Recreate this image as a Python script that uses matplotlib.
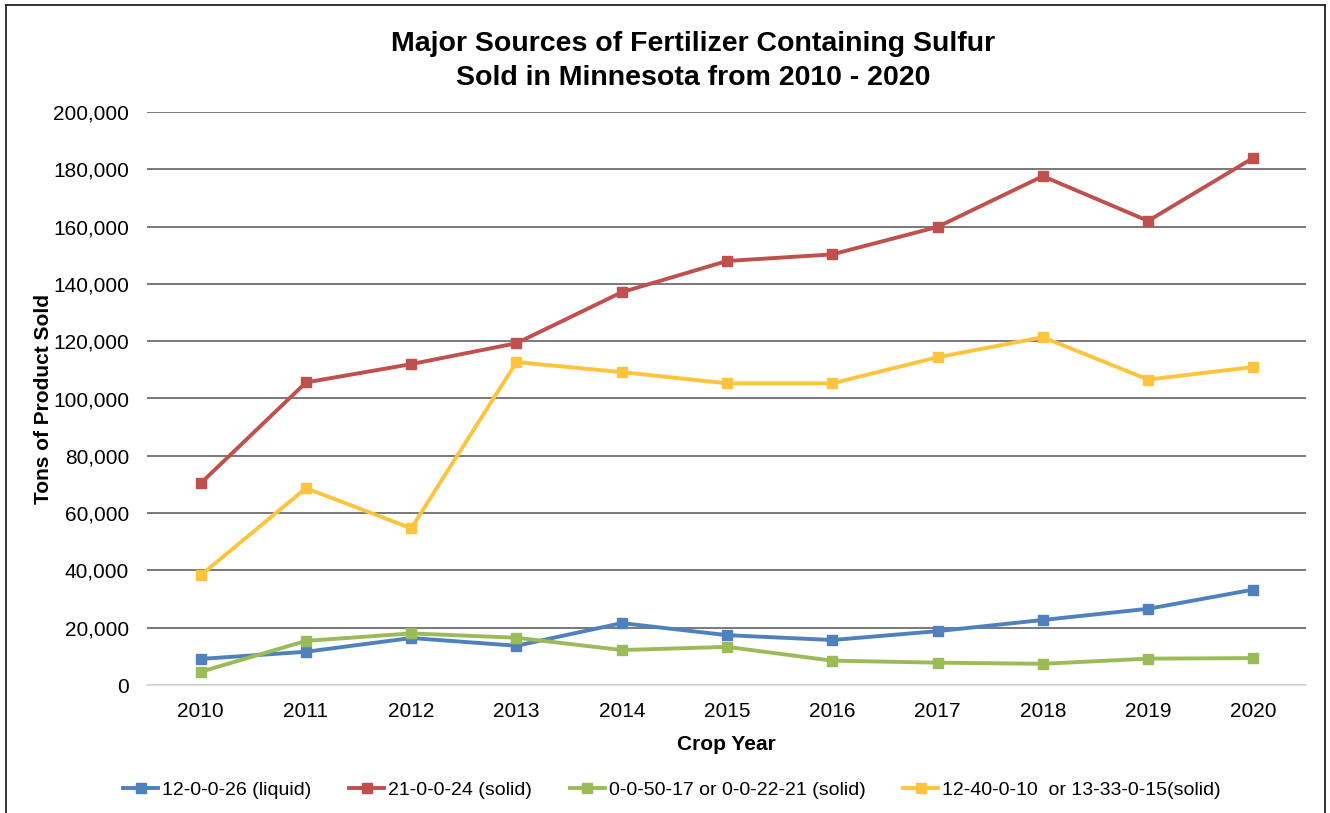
import matplotlib
matplotlib.use("Agg")
import matplotlib.pyplot as plt
from matplotlib.lines import Line2D
from matplotlib.ticker import FuncFormatter

plt.rcParams['font.family'] = ['Liberation Sans', 'DejaVu Sans']

years = [2010, 2011, 2012, 2013, 2014, 2015, 2016, 2017, 2018, 2019, 2020]
liquid_12_0_0_26 = [9100, 11600, 16400, 13700, 21600, 17400, 15700, 18800, 22700, 26600, 33300]
solid_21_0_0_24 = [70400, 105600, 112000, 119300, 137100, 148000, 150300, 159900, 177600, 162000, 184000]
solid_0_0_50_17 = [4600, 15400, 18000, 16500, 12200, 13300, 8500, 7800, 7400, 9200, 9400]
solid_12_40_0_10 = [38300, 68700, 54700, 112700, 109200, 105300, 105300, 114400, 121400, 106600, 111000]

series = [
    ("12-0-0-26 (liquid)", liquid_12_0_0_26, "#4F81BD"),
    ("21-0-0-24 (solid)", solid_21_0_0_24, "#C0504D"),
    ("0-0-50-17 or 0-0-22-21 (solid)", solid_0_0_50_17, "#9BBB59"),
    ("12-40-0-10  or 13-33-0-15(solid)", solid_12_40_0_10, "#FFC43D"),
]
yticks = list(range(0, 200001, 20000))

fig = plt.figure(figsize=(13.3, 8.13), dpi=100)
ax = fig.add_axes([147/1330, 1-685/813, (1306-147)/1330, (685-112)/813])

for label, vals, col in series:
    ax.plot(years, vals, color=col, lw=2.8, marker='s', markersize=6.5,
            label=label, solid_joinstyle='round')

ax.set_xlim(2009.49, 2020.5)
ax.set_ylim(0, 200000)
ax.set_yticks(yticks)
ax.set_xticks(years)
ax.yaxis.set_major_formatter(FuncFormatter(lambda v, p: f"{int(v):,}"))
ax.grid(axis='y', color='#6e6e6e', lw=1.3)
ax.set_axisbelow(True)
for s in ['top', 'right', 'left']:
    ax.spines[s].set_visible(False)
ax.spines['bottom'].set_color('#d9d9d9')
ax.spines['bottom'].set_linewidth(1.3)
ax.tick_params(axis='both', length=0, labelsize=15, colors='#000000')
ax.tick_params(axis='y', pad=13)
ax.tick_params(axis='x', pad=12)

ax.set_xlabel("Crop Year", fontsize=15, fontweight='bold', labelpad=10)
ax.set_ylabel("Tons of Product Sold", fontsize=15, fontweight='bold', labelpad=0)

tx = 693/1330
fig.text(tx, 1-44/813, "Major Sources of Fertilizer Containing Sulfur",
         ha='center', va='center', fontsize=20.5, fontweight='bold')
fig.text(tx, 1-78/813, "Sold in Minnesota from 2010 - 2020",
         ha='center', va='center', fontsize=20.5, fontweight='bold')

handles = [Line2D([0], [0], color=c, lw=2.8, marker='s', markersize=6.5) for _, _, c in series]
fig.legend(handles, [s[0] for s in series], loc='center', ncol=4,
           bbox_to_anchor=(672/1330, 1-790/813), frameon=False, fontsize=14,
           handlelength=1.8, handletextpad=0.2, columnspacing=1.95)

# chart border
x0, x1, yt = 6/1330, 1325/1330, 1-5/813
fig.add_artist(Line2D([x0, x0], [0, yt], transform=fig.transFigure, color='#222222', lw=1.3))
fig.add_artist(Line2D([x1, x1], [0, yt], transform=fig.transFigure, color='#222222', lw=1.3))
fig.add_artist(Line2D([x0, x1], [yt, yt], transform=fig.transFigure, color='#222222', lw=1.3))

fig.savefig("out.png", dpi=100)
